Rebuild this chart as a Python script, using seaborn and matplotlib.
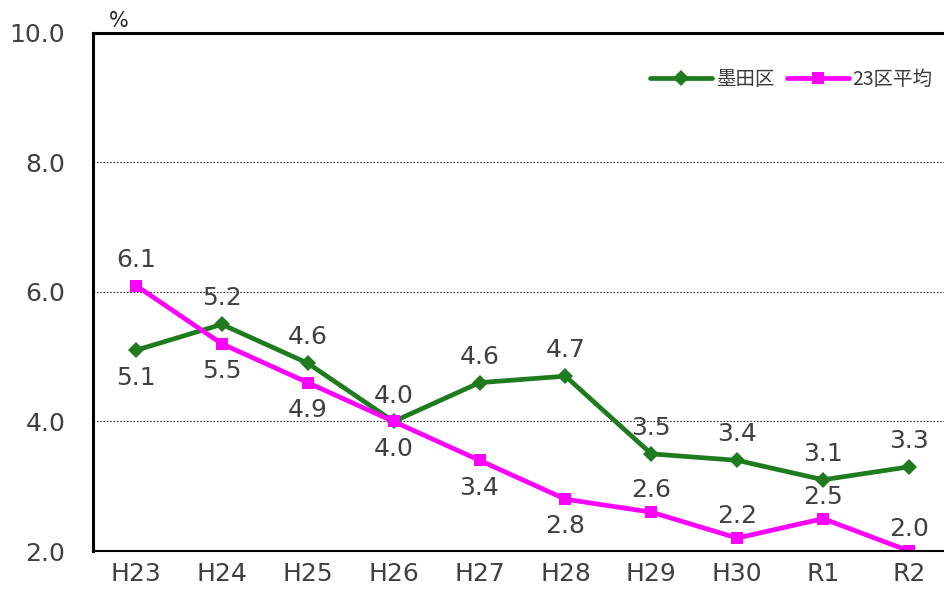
import pandas as pd
import seaborn as sns
import matplotlib.pyplot as plt

# data
years = ["H23", "H24", "H25", "H26", "H27", "H28", "H29", "H30", "R1", "R2"]
sumida = [5.1, 5.5, 4.9, 4.0, 4.6, 4.7, 3.5, 3.4, 3.1, 3.3]
avg23 = [6.1, 5.2, 4.6, 4.0, 3.4, 2.8, 2.6, 2.2, 2.5, 2.0]
# label text as printed on the original (first row sits above, second below)
labels_upper = ["6.1", "5.2", "4.6", "4.0", "4.6", "4.7", "3.5", "3.4", "3.1", "3.3"]
labels_lower = ["5.1", "5.5", "4.9", "4.0", "3.4", "2.8", "2.6", "2.2", "2.5", "2.0"]

sns.set_style("white")
plt.rcParams['font.family'] = ['DejaVu Sans', 'Noto Sans CJK JP']

df = pd.DataFrame({
    "year": list(range(len(years))) * 2,
    "value": sumida + avg23,
    "area": ["墨田区"] * len(years) + ["23区平均"] * len(years),
})

fig = plt.figure(figsize=(9.45, 5.9), dpi=100)
ax = fig.add_axes([0.0984, 0.0661, 0.909, 0.878])

sns.lineplot(data=df, x="year", y="value", hue="area", style="area",
             palette={"墨田区": "#1e7b1e", "23区平均": "#ff00ff"},
             markers={"墨田区": "D", "23区平均": "s"}, dashes=False,
             linewidth=3.4, markersize=8.5, markeredgewidth=0, ax=ax)

# data labels
txt = dict(ha="center", fontsize=18, color="#404040", textcoords="offset points")
for i in range(len(years)):
    hi = max(sumida[i], avg23[i])
    lo = min(sumida[i], avg23[i])
    ax.annotate(labels_upper[i], (i, hi), xytext=(0, 10), va="bottom", **txt)
    if i <= 5:
        ax.annotate(labels_lower[i], (i, lo), xytext=(0, -11), va="top", **txt)
    else:
        ax.annotate(labels_lower[i], (i, lo), xytext=(0, 7), va="bottom", **txt)

ax.set_xlim(-0.5, 9.5)
ax.set_ylim(2.0, 10.0)
ax.set_yticks([2, 4, 6, 8, 10])
ax.set_yticklabels([f"{v:.1f}" for v in [2, 4, 6, 8, 10]])
ax.set_xticks(range(len(years)))
ax.set_xticklabels(years)
ax.set_xticks([i + 0.5 for i in range(len(years) - 1)], minor=True)
ax.tick_params(axis="x", which="major", length=0, labelsize=18, labelcolor="#404040", pad=8)
ax.tick_params(axis="x", which="minor", direction="in", length=5, width=1, color="#555555")
ax.tick_params(axis="y", length=0, labelsize=18, labelcolor="#404040", pad=20)
ax.set_xlabel("")
ax.set_ylabel("")

for y in [4, 6, 8]:
    ax.axhline(y, color="#333333", linestyle=(0, (1.5, 1.5)), linewidth=0.8, zorder=0)

for s in ["left", "top", "bottom", "right"]:
    ax.spines[s].set_color("black")
ax.spines["left"].set_linewidth(2.2)
ax.spines["top"].set_linewidth(2.2)
ax.spines["bottom"].set_linewidth(1.5)

ax.text(0.03, 1.003, "%", transform=ax.transAxes, fontsize=15, ha="center", va="bottom")

leg = ax.legend(loc="upper right", bbox_to_anchor=(0.998, 0.965), ncol=2, frameon=False,
                prop={"family": ["Noto Sans CJK JP", "DejaVu Sans"], "size": 14},
                handlelength=3.2, columnspacing=0.6, handletextpad=0.2)
for t in leg.get_texts():
    t.set_color("#3a3a3a")

fig.savefig("out.png", dpi=100)
